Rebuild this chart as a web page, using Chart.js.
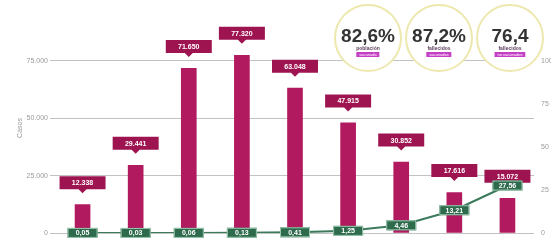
<!DOCTYPE html>
<html>
<head>
<meta charset="utf-8">
<script src="https://cdn.jsdelivr.net/npm/chart.js@4"></script>
<style>
  html,body{margin:0;padding:0;background:#fff;}
  #wrap{position:relative;width:551px;height:245px;overflow:hidden;font-family:"Liberation Sans",Arial,sans-serif;}
  canvas{position:absolute;left:0;top:0;}
  .circ{position:absolute;box-sizing:border-box;border:2px solid #ece8ae;border-radius:50%;background:#fff;text-align:center;}
  .big{position:absolute;left:0;right:0;font-weight:bold;color:#333;font-size:19px;line-height:19px;}
  .sub{position:absolute;left:0;right:0;font-size:5px;line-height:6px;color:#5b3b5b;font-weight:bold;}
  .pill{position:absolute;left:50%;transform:translateX(-50%);background:#c43fc6;color:#fff;font-size:4px;line-height:5px;padding:0 3px;white-space:nowrap;}
</style>
</head>
<body>
<div id="wrap">
  <canvas id="c" width="551" height="245"></canvas>
</div>
<script>
// ---- data ----
const categories = ['P1','P2','P3','P4','P5','P6','P7','P8','P9'];
const cases = [12338, 29441, 71650, 77320, 63048, 47915, 30852, 17616, 15072];
const rate = [0.05, 0.03, 0.06, 0.13, 0.41, 1.25, 4.46, 13.21, 27.56];
const leftTicks = [0, 25000, 50000, 75000];
const rightTicks = [0, 25, 50, 75, 100];
const kpiValues = ['82,6%', '87,2%', '76,4'];
const kpiTitles = ['población', 'fallecidos', 'fallecidos'];
const kpiTags = ['vacunada', 'vacunados', 'no vacunados'];

const fmtThousands = v => v.toLocaleString('de-DE');
const fmtRate = v => v.toFixed(2).replace('.', ',');

// ---- KPI circles (HTML text) ----
const wrap = document.getElementById('wrap');
const centers = [368, 439, 510];
kpiValues.forEach((v, i) => {
  const r = 34;
  const d = document.createElement('div');
  d.className = 'circ';
  d.style.left = (centers[i] - r) + 'px';
  d.style.top = (38 - r) + 'px';
  d.style.width = (2 * r) + 'px';
  d.style.height = (2 * r) + 'px';
  d.innerHTML = '<div class="big" style="top:20px">' + v + '</div>' +
                '<div class="sub" style="top:39px">' + kpiTitles[i] + '</div>' +
                '<div class="pill" style="top:46px">' + kpiTags[i] + '</div>';
  wrap.appendChild(d);
});

// ---- label plugin ----
const labelPlugin = {
  id: 'labels',
  afterDatasetsDraw(chart) {
    const ctx = chart.ctx;
    ctx.save();
    const bm = chart.getDatasetMeta(0);
    bm.data.forEach((el, i) => {
      const w = 46, h = 13, cy = el.y - 22, x = el.x;
      ctx.fillStyle = '#9e1450';
      ctx.beginPath();
      ctx.moveTo(x - w/2, cy - h/2);
      ctx.lineTo(x + w/2, cy - h/2);
      ctx.lineTo(x + w/2, cy + h/2);
      ctx.lineTo(x + 4, cy + h/2);
      ctx.lineTo(x, cy + h/2 + 4);
      ctx.lineTo(x - 4, cy + h/2);
      ctx.lineTo(x - w/2, cy + h/2);
      ctx.closePath();
      ctx.fill();
      ctx.fillStyle = '#fff';
      ctx.font = 'bold 7px "Liberation Sans", Arial, sans-serif';
      ctx.textAlign = 'center';
      ctx.textBaseline = 'middle';
      ctx.fillText(fmtThousands(cases[i]), x, cy + 0.5);
    });
    const lm = chart.getDatasetMeta(1);
    lm.data.forEach((el, i) => {
      const w = 30, h = 10, x = el.x, y = el.y;
      ctx.fillStyle = '#2e6a4c';
      ctx.strokeStyle = '#9cc8b0';
      ctx.lineWidth = 1;
      ctx.fillRect(x - w/2, y - h/2, w, h);
      ctx.strokeRect(x - w/2 + 0.5, y - h/2 + 0.5, w - 1, h - 1);
      ctx.fillStyle = '#fff';
      ctx.font = 'bold 7px "Liberation Sans", Arial, sans-serif';
      ctx.textAlign = 'center';
      ctx.textBaseline = 'middle';
      ctx.fillText(fmtRate(rate[i]), x, y + 0.5);
    });
    ctx.translate(20, 128);
    ctx.rotate(-Math.PI / 2);
    ctx.fillStyle = '#999';
    ctx.font = '7px "Liberation Sans", Arial, sans-serif';
    ctx.textAlign = 'center';
    ctx.textBaseline = 'middle';
    ctx.fillText('Casos', 0, 0);
    ctx.restore();
  }
};

new Chart(document.getElementById('c'), {
  data: {
    labels: categories,
    datasets: [
      {
        type: 'bar',
        data: cases,
        backgroundColor: '#b21a5f',
        barThickness: 15,
        yAxisID: 'y',
        order: 2
      },
      {
        type: 'line',
        data: rate,
        borderColor: '#3b7a5b',
        borderWidth: 2,
        pointRadius: 0,
        tension: 0,
        yAxisID: 'y1',
        order: 1
      }
    ]
  },
  options: {
    responsive: false,
    animation: false,
    events: [],
    layout: { padding: { top: 0, bottom: 12, left: 0, right: 0 } },
    plugins: { legend: { display: false }, tooltip: { enabled: false } },
    scales: {
      x: { display: false },
      y: {
        position: 'left',
        min: 0,
        max: 96547,
        afterFit(s) { s.width = 56; },
        afterBuildTicks(s) { s.ticks = leftTicks.map(v => ({ value: v })); },
        ticks: { color: '#9a9a9a', font: { size: 7 }, padding: 2, callback: v => fmtThousands(v) },
        grid: { color: '#c2c2c2', lineWidth: 1, tickLength: 6 },
        border: { display: false }
      },
      y1: {
        position: 'right',
        min: 0,
        max: 128.7,
        afterFit(s) { s.width = 17; },
        afterBuildTicks(s) { s.ticks = rightTicks.map(v => ({ value: v })); },
        ticks: { color: '#9a9a9a', font: { size: 7 }, padding: 7 },
        grid: { drawOnChartArea: false, drawTicks: false },
        border: { display: false }
      }
    }
  },
  plugins: [labelPlugin]
});
</script>
</body>
</html>
